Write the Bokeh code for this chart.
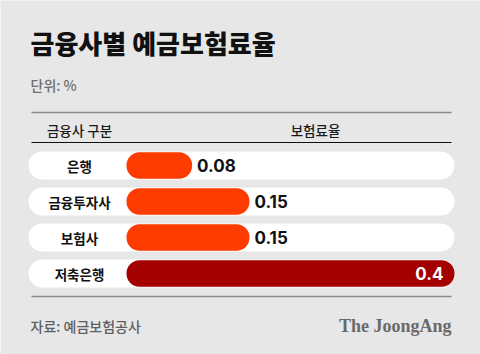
from bokeh.plotting import figure
from bokeh.models import Range1d, ColumnDataSource, Label
from bokeh.embed import file_html
from bokeh.resources import INLINE

# ---- data ----
title_text = "금융사별 예금보험료율"
unit_text = "단위: %"
header_cat = "금융사 구분"
header_val = "보험료율"
categories = ["은행", "금융투자사", "보험사", "저축은행"]
rates = [0.08, 0.15, 0.15, 0.4]
source_text = "자료: 예금보험공사"
brand_text = "The JoongAng"

# ---- layout helpers ----
W, H = 480, 354
X0_PX, PX_PER_UNIT = 126, 820
ROW0_PX, ROW_PX = 165, 36

def xd(px):
    return (px - X0_PX) / PX_PER_UNIT

def yd(py):
    return (py - ROW0_PX) / ROW_PX

BG = "#e7e7e7"
ORANGE = "#ff3c00"
DARK = "#a40000"
KR = "Noto Sans CJK KR"
KR_MED = "'Noto Sans CJK KR Medium', 'Noto Sans CJK KR'"
KR_BLACK = "'Noto Sans CJK KR Black', 'Noto Sans CJK KR'"

p = figure(width=W, height=H, output_backend="svg", toolbar_location=None,
           x_range=Range1d(xd(0), xd(W)), y_range=Range1d(yd(H), yd(0)),
           x_axis_location=None, y_axis_location=None, min_border=0)
p.grid.visible = False
p.outline_line_color = None
p.background_fill_color = BG
p.border_fill_color = BG

rows = list(range(len(categories)))
vmax = max(rates)
colors = [DARK if v == vmax else ORANGE for v in rates]

# row pills
p.hbar(y=rows, left=xd(28), right=xd(454), height=28 / ROW_PX,
       fill_color="white", line_color=None, border_radius=14)

# bars
src = ColumnDataSource(dict(y=rows, v=rates, c=colors, cat=categories,
                            lab=[("%g" % v) for v in rates],
                            lc=["white" if v == vmax else "#111111" for v in rates],
                            al=["right" if v == vmax else "left" for v in rates],
                            xo=[-11 if v == vmax else 5 for v in rates]))
p.hbar(y="y", left=0, right="v", height=26.5 / ROW_PX, fill_color="c",
       line_color=None, border_radius=13, source=src)

# category labels
p.text(x=xd(79), y="y", text="cat", source=src, text_align="center",
       text_baseline="middle", text_font={"value": KR}, text_font_style="bold",
       text_font_size="13.5px", text_color="#111111")

# value labels
p.text(x="v", y="y", text="lab", source=src, x_offset="xo", text_align="al",
       text_baseline="middle", text_font={"value": "Inter"}, text_font_style="bold",
       text_font_size="17px", text_color="lc")

# rules
p.line(x=[xd(31), xd(451)], y=[yd(112), yd(112)], line_color="#8a8a8a", line_width=1.3)
p.line(x=[xd(31), xd(451)], y=[yd(142), yd(142)], line_color="#111111", line_width=1.2)
p.line(x=[xd(31), xd(451)], y=[yd(296), yd(296)], line_color="#8a8a8a", line_width=1.3)

def label(txt, x, y, size, color, align="left", bold=False, font=KR):
    p.add_layout(Label(x=xd(x), y=yd(y), text=txt, text_align=align,
                       text_baseline="middle", text_font=font,
                       text_font_style="bold" if bold else "normal",
                       text_font_size=size, text_color=color))

label(title_text, 30, 42, "26px", "#111111", bold=True, font=KR_BLACK)
label(unit_text, 30, 84, "14px", "#6f6f6f", font=KR_MED)
label(header_cat, 79, 129, "13.5px", "#1a1a1a", align="center", font=KR_MED)
label(header_val, 315, 129, "13.5px", "#1a1a1a", align="center", font=KR_MED)
label(source_text, 30, 325, "14px", "#5f5f5f", font=KR_MED)
label(brand_text, 451, 325, "18px", "#6a6a6a", align="right", bold=True,
      font="Liberation Serif")

open("out.html", "w").write(file_html(p, INLINE))
